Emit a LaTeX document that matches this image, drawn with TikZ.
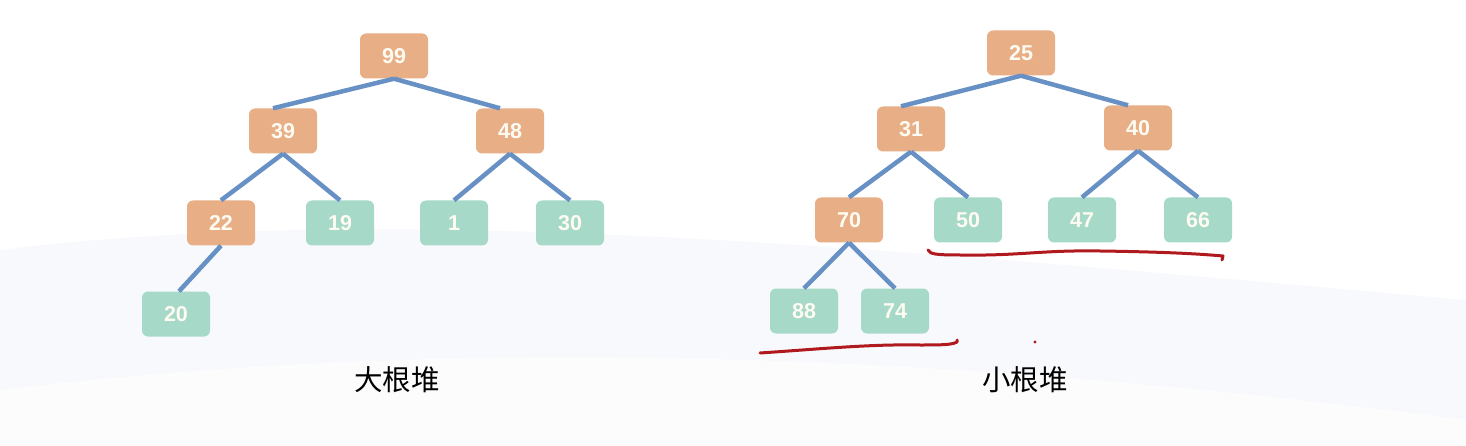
\documentclass[tikz,border=0pt]{standalone}
\usepackage{fontspec}
\setmainfont{Liberation Sans}
\newfontfamily\cjk{Noto Sans CJK SC}
\definecolor{orangebox}{HTML}{E8AF86}
\definecolor{greenbox}{HTML}{A6D9C7}
\definecolor{edgeblue}{HTML}{6790C4}
\definecolor{penred}{HTML}{B0191E}
\definecolor{bgtint}{HTML}{F3F5FA}
\definecolor{numtext}{HTML}{FDFBF2}
\begin{document}
\begin{tikzpicture}[x=1pt,y=-1pt,
  heapbox/.style={rounded corners=6pt,minimum width=68pt,minimum height=45pt,inner sep=0pt,
    text=numtext,font=\fontsize{21.5}{23}\selectfont\bfseries},
  maxbox/.style={heapbox,fill=orangebox},
  leafbox/.style={heapbox,fill=greenbox},
  link/.style={draw=edgeblue,line width=4.5pt},
  ink/.style={draw=penred,line width=3pt,line cap=round,line join=round},
  caption/.style={font=\cjk\fontsize{28.5}{30}\selectfont,text=black}]
\useasboundingbox (0,0) rectangle (1466,446);
\fill[white] (0,0) rectangle (1466,446);
% faint background swooshes
\fill[bgtint,opacity=0.5] (0,250) .. controls (400,200) and (900,250) .. (1466,300) -- (1466,446) -- (0,446) -- cycle;
\fill[white,opacity=0.6] (0,390) .. controls (500,330) and (1000,360) .. (1466,420) -- (1466,446) -- (0,446) -- cycle;
% left tree
\node[maxbox] (n99) at (394,56) {99};
\node[maxbox] (n39) at (283,131) {39};
\node[maxbox] (n48) at (510,131) {48};
\node[maxbox] (n22) at (221,223) {22};
\node[leafbox] (n19) at (340,223) {19};
\node[leafbox] (n1) at (454,223) {1};
\node[leafbox] (n30) at (570,223) {30};
\node[leafbox] (n20) at (176,314) {20};
\draw[link] (n99.south) -- ([xshift=-10pt]n39.north);
\draw[link] (n99.south) -- ([xshift=-10pt]n48.north);
\draw[link] (n39.south) -- (n22.north);
\draw[link] (n39.south) -- (n19.north);
\draw[link] (n48.south) -- (n1.north);
\draw[link] (n48.south) -- (n30.north);
\draw[link] (n22.south) -- ([xshift=3pt]n20.north);
% right tree
\node[maxbox] (n25) at (1021,53) {25};
\node[maxbox] (n31) at (911,129) {31};
\node[maxbox] (n40) at (1138,128) {40};
\node[maxbox] (n70) at (849,220) {70};
\node[leafbox] (n50) at (968,220) {50};
\node[leafbox] (n47) at (1082,220) {47};
\node[leafbox] (n66) at (1198,220) {66};
\node[leafbox] (n88) at (804,311) {88};
\node[leafbox] (n74) at (895,311) {74};
\draw[link] (n25.south) -- ([xshift=-10pt]n31.north);
\draw[link] (n25.south) -- ([xshift=-10pt]n40.north);
\draw[link] (n31.south) -- (n70.north);
\draw[link] (n31.south) -- (n50.north);
\draw[link] (n40.south) -- (n47.north);
\draw[link] (n40.south) -- (n66.north);
\draw[link] (n70.south) -- (n88.north);
\draw[link] (n70.south) -- (n74.north);
% captions
\node[caption] (capL) at (397,380) {大根堆};
\node[caption] (capR) at (1025,380) {小根堆};
% red hand-drawn underlines
\coordinate (u1a) at (760,353);
\coordinate (u1b) at (957,342);
\draw[ink] (u1a) .. controls (820,349) and (870,344) .. (920,345) .. controls (940,345) and (952,345) .. (u1b) -- (957,340);
\coordinate (u2a) at (928,250);
\coordinate (u2b) at (1222,260);
\draw[ink] (u2a) .. controls (930,254) and (935,255) .. (960,255) .. controls (1020,256) and (1040,250) .. (1100,251) .. controls (1170,252) and (1200,254) .. (1223,256) -- (u2b);
\fill[penred] (1035,342) circle (1.6pt);
\end{tikzpicture}
\end{document}
